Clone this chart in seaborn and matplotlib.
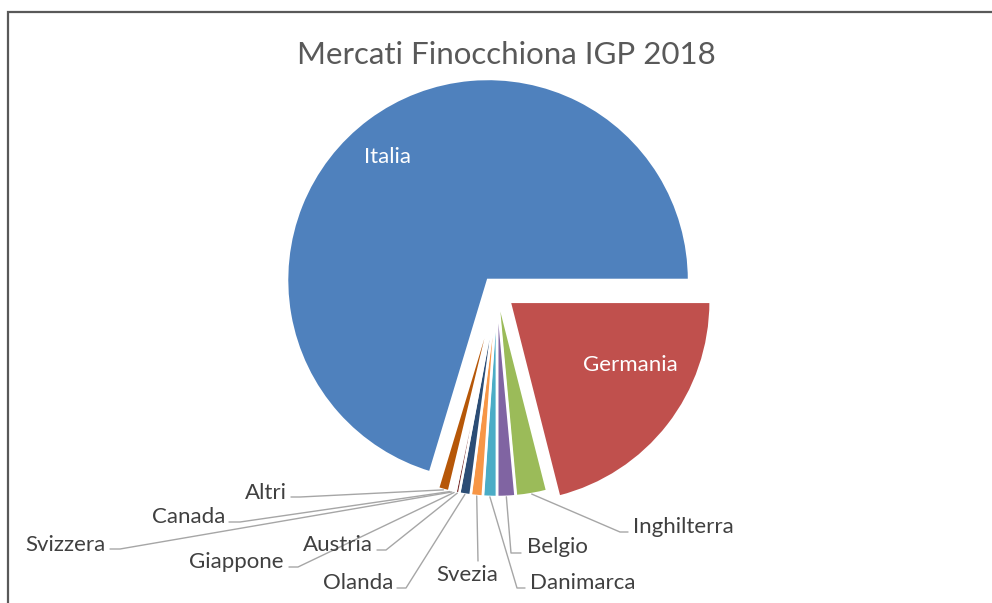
import matplotlib
matplotlib.use('Agg')
import numpy as np
import matplotlib.pyplot as plt
import seaborn as sns

sns.set_theme(style='white')
plt.rcParams['font.family'] = ['Lato', 'DejaVu Sans']

# dati (quote di mercato, %)
paesi = ['Italia', 'Germania', 'Inghilterra', 'Belgio', 'Danimarca', 'Svezia',
         'Olanda', 'Austria', 'Giappone', 'Svizzera', 'Canada', 'Altri']
quote = [70.2, 21.0, 2.5, 1.45, 1.1, 0.95, 0.9, 0.3, 0.2, 0.15, 0.15, 0.9]
colori = ['#4F81BD', '#C0504D', '#9BBB59', '#8064A2', '#4BACC6', '#F79646',
          '#2C4D75', '#772C2A', '#5F7530', '#4D3B62', '#276A7C', '#B65708']
# spostamento delle fette in pixel (raggio = 200)
esplodi = [15, 16] + [4] * 10

W, H = 992, 603
fig = plt.figure(figsize=(W / 100, H / 100), dpi=100)
ax = fig.add_axes([0, 0, 1, 1])

palette = sns.color_palette(colori)
start = 360 * quote[0] / sum(quote)
wedges, _ = ax.pie(quote, colors=palette, explode=esplodi, startangle=start,
                   counterclock=False, radius=201, center=(497, H - 292),
                   wedgeprops=dict(edgecolor='white', linewidth=1.8))
ax.set_xlim(0, W)
ax.set_ylim(0, H)
ax.set_aspect('equal')
ax.axis('off')


def py(y):
    return H - y


# cornice del grafico (solo bordo sinistro e superiore visibili)
ax.plot([8, 8, W + 5], [py(H + 5), py(12), py(12)], color='#595959', lw=1.6,
        clip_on=False, solid_joinstyle='miter')

ax.text(506, py(55), 'Mercati Finocchiona IGP 2018', ha='center', va='center',
        fontsize=22.5, color='#595959')

# etichette interne
ax.text(387, py(157), 'Italia', ha='center', va='center', fontsize=16, color='white')
ax.text(630, py(365), 'Germania', ha='center', va='center', fontsize=16, color='white')

# etichette esterne: testo (x, y), allineamento, punto di arrivo linea, gomito
etichette = {
    'Inghilterra': ((633, 527), 'left', (628, 532), (620, 532)),
    'Belgio': ((527, 547), 'left', (521, 553), (511, 553)),
    'Danimarca': ((530, 583), 'left', (525, 588), (517, 588)),
    'Svezia': ((467, 575), 'center', (478, 561), (478, 561)),
    'Olanda': ((393, 583), 'right', (397, 588), (406, 588)),
    'Austria': ((373, 545), 'right', (377, 550), (386, 550)),
    'Giappone': ((284, 562), 'right', (289, 567), (298, 567)),
    'Svizzera': ((106, 545), 'right', (110, 549), (120, 549)),
    'Canada': ((225, 517), 'right', (229, 522), (240, 522)),
    'Altri': ((287, 493), 'right', (291, 497), (300, 497)),
}

for w, nome in zip(wedges, paesi):
    if nome not in etichette:
        continue
    (tx, ty), ha, fine, gomito = etichette[nome]
    ang = np.deg2rad((w.theta1 + w.theta2) / 2)
    ax_, ay_ = w.center[0] + w.r * np.cos(ang), w.center[1] + w.r * np.sin(ang)
    ax.plot([ax_, gomito[0], fine[0]], [ay_, py(gomito[1]), py(fine[1])],
            color='#a6a6a6', lw=1.0)
    ax.text(tx, py(ty), nome, ha=ha, va='center', fontsize=16, color='#404040')

fig.savefig('out.png', dpi=100, facecolor='white')
